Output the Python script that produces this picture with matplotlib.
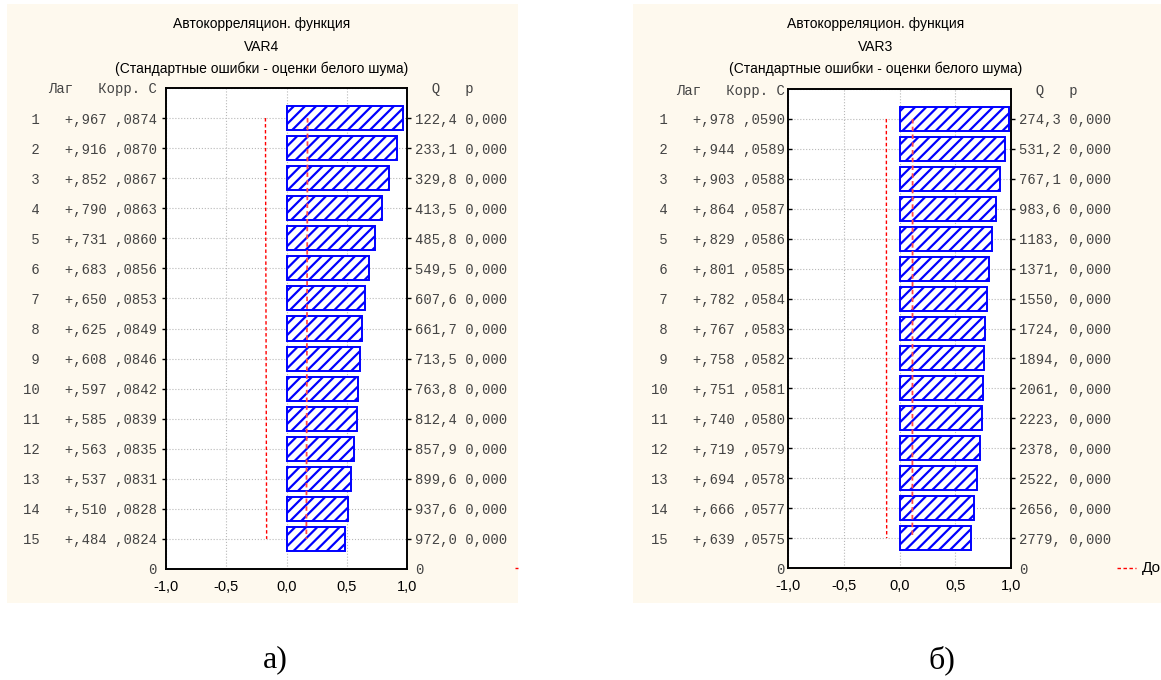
import matplotlib
matplotlib.use("Agg")
import matplotlib.pyplot as plt
from matplotlib.patches import Rectangle
from matplotlib.lines import Line2D

# autocorrelation tables
lags = list(range(1, 16))

corr_var4 = [0.967, 0.916, 0.852, 0.790, 0.731, 0.683, 0.650, 0.625,
             0.608, 0.597, 0.585, 0.563, 0.537, 0.510, 0.484]
se_var4 = [0.0874, 0.0870, 0.0867, 0.0863, 0.0860, 0.0856, 0.0853, 0.0849,
           0.0846, 0.0842, 0.0839, 0.0835, 0.0831, 0.0828, 0.0824]
q_var4 = ["122,4", "233,1", "329,8", "413,5", "485,8", "549,5", "607,6", "661,7",
          "713,5", "763,8", "812,4", "857,9", "899,6", "937,6", "972,0"]

corr_var3 = [0.978, 0.944, 0.903, 0.864, 0.829, 0.801, 0.782, 0.767,
             0.758, 0.751, 0.740, 0.719, 0.694, 0.666, 0.639]
se_var3 = [0.0590, 0.0589, 0.0588, 0.0587, 0.0586, 0.0585, 0.0584, 0.0583,
           0.0582, 0.0581, 0.0580, 0.0579, 0.0578, 0.0577, 0.0575]
q_var3 = ["274,3", "531,2", "767,1", "983,6", "1183,", "1371,", "1550,", "1724,",
          "1894,", "2061,", "2223,", "2378,", "2522,", "2656,", "2779,"]

p_values = ["0,000"] * 15

x_ticks = [-1.0, -0.5, 0.0, 0.5, 1.0]
x_labels = ["-1,0", "-0,5", "0,0", "0,5", "1,0"]

BEIGE = "#FEF9EE"
MONO = "Liberation Mono"
SANS = "Liberation Sans"
W, H = 1161, 680

plt.rcParams["hatch.linewidth"] = 1.6


def fx(x):
    return x / W


def fy(y):
    return 1 - y / H


def fmt(v, nd):
    s = ("%." + str(nd) + "f") % v
    return s.replace("0.", ",", 1)


fig = plt.figure(figsize=(11.61, 6.80), dpi=100)
fig.patch.set_facecolor("white")


def panel(box, axbox, name, corr, se, q, title_x, legend_x, left_pad, left_dir):
    # beige panel background, kept under the axes
    fig.patches.append(Rectangle((fx(box[0]), fy(box[3])), fx(box[2] - box[0]),
                                 (box[3] - box[1]) / H, transform=fig.transFigure,
                                 facecolor=BEIGE, edgecolor="none", zorder=-5))
    l, t, r, b = axbox
    ax = fig.add_axes([fx(l), fy(b), fx(r - l), (b - t) / H])
    ax.set_facecolor("white")

    ax.barh(lags, corr, height=0.8, left=0, color="white", edgecolor="#0000FF",
            hatch="///", linewidth=1.4, zorder=2)
    neg = [-2 * s for s in se]
    pos = [2 * s for s in se]
    ax.plot(neg, lags, color="red", lw=1.0, ls=(0, (2.5, 1.8)), zorder=3)
    ax.plot(pos, lags, color="#ff4a4a", lw=1.3, ls=(0, (2.5, 1.8)), zorder=3)

    ax.set_xlim(-1, 1)
    ax.set_ylim(16, 0)
    ax.set_xticks(x_ticks)
    ax.set_xticklabels(x_labels, fontfamily=SANS, fontsize=10.5)
    ax.tick_params(axis="x", length=0, pad=8)

    yt = [0] + lags + [16]
    left_lbl = ["Лаг   Корр. С"] + ["%2d   +%s %s" % (g, fmt(c, 3), fmt(s, 4))
                                       for g, c, s in zip(lags, corr, se)] + ["0"]
    ax.set_yticks(yt)
    ax.set_yticklabels(left_lbl, fontfamily=MONO, fontsize=10, color="#444444")
    ax.tick_params(axis="y", length=3, width=1, pad=left_pad, direction=left_dir)
    ax.grid(True, linestyle=":", color="#b8b8b8", lw=0.8, zorder=0)
    ax.set_axisbelow(True)
    for sp in ax.spines.values():
        sp.set_linewidth(1.2)
        sp.set_color("black")

    ax2 = ax.twinx()
    ax2.set_ylim(16, 0)
    right_lbl = ["  Q   p"] + ["%s %s" % (a, p) for a, p in zip(q, p_values)] + ["0"]
    ax2.set_yticks(yt)
    ax2.set_yticklabels(right_lbl, fontfamily=MONO, fontsize=10, color="#444444")
    ax2.tick_params(axis="y", length=3, width=1, pad=2.5, direction="out")
    for sp in ax2.spines.values():
        sp.set_linewidth(1.2)

    # no tick marks for the header row and the bottom "0"
    for a in (ax, ax2):
        ticks = a.yaxis.get_major_ticks()
        for k in (0, -1):
            ticks[k].tick1line.set_visible(False)
            ticks[k].tick2line.set_visible(False)

    fig.text(fx(title_x), fy(24), "Автокорреляцион. функция", ha="center", va="center",
             fontfamily=SANS, fontsize=10)
    fig.text(fx(title_x), fy(47), name, ha="center", va="center",
             fontfamily=SANS, fontsize=10)
    fig.text(fx(title_x), fy(69), "(Стандартные ошибки - оценки белого шума)",
             ha="center", va="center", fontfamily=SANS, fontsize=10)

    # legend, cut off by the panel edge
    x0, x1 = legend_x
    fig.lines.append(Line2D([fx(x0), fx(min(x1, box[2]))], [fy(568), fy(568)],
                            transform=fig.transFigure, color="red", lw=1.0,
                            ls=(0, (2.5, 1.8))))
    if x1 < box[2]:
        fig.text(fx(x1 + 6), fy(568), "До", ha="left", va="center",
                 fontfamily=SANS, fontsize=11)
    return ax


panel((7, 4, 518, 603), (166, 88, 407, 569), "VAR4", corr_var4, se_var4, q_var4,
      262, (515, 540), 3.5, "out")
panel((633, 4, 1161, 603), (788, 89, 1011, 568), "VAR3", corr_var3, se_var3, q_var3,
      876, (1117, 1136), 2.5, "in")

fig.text(fx(275), fy(660), "а)", ha="center", va="center",
         fontfamily="Liberation Serif", fontsize=23)
fig.text(fx(942), fy(660), "б)", ha="center", va="center",
         fontfamily="Liberation Serif", fontsize=23)

fig.savefig("out.png", dpi=100, facecolor="white")
